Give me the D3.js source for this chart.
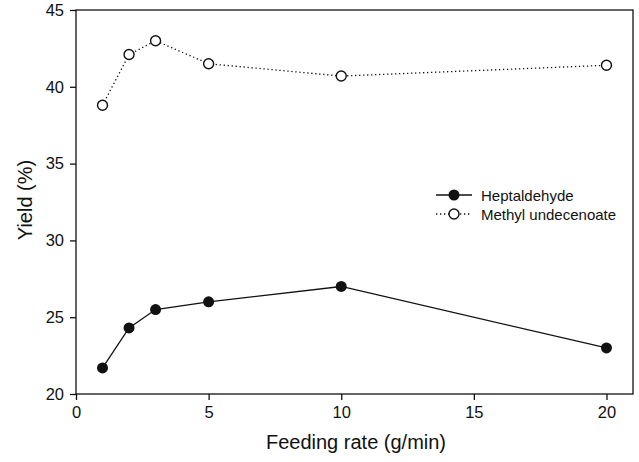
<!DOCTYPE html>
<html>
<head>
<meta charset="utf-8">
<script src="https://cdn.jsdelivr.net/npm/d3@7"></script>
<style>
  body { margin: 0; background: #fff; }
  svg text { font-family: "Liberation Sans", Arial, sans-serif; fill: #111; }
</style>
</head>
<body>
<script>
// data
const feedRate = [1, 2, 3, 5, 10, 20];
const heptaldehyde = [21.7, 24.3, 25.5, 26.0, 27.0, 23.0];
const methylUndecenoate = [38.8, 42.1, 43.0, 41.5, 40.7, 41.4];
const xTicks = [0, 5, 10, 15, 20];
const yTicks = [20, 25, 30, 35, 40, 45];

const w = 639, h = 462;
const padL = 76, padR = 633, padT = 10, padB = 394;

const svg = d3.select("body").append("svg")
  .attr("width", w).attr("height", h);

const x = d3.scaleLinear().domain([0, 21]).range([padL, padR]);
const y = d3.scaleLinear().domain([20, 45]).range([padB, padT]);

// frame
svg.append("rect")
  .attr("x", padL).attr("y", padT)
  .attr("width", padR - padL).attr("height", padB - padT)
  .attr("fill", "none").attr("stroke", "#111").attr("stroke-width", 1.3);

const xAxis = svg.append("g")
  .attr("transform", "translate(0," + padB + ")")
  .call(d3.axisBottom(x).tickValues(xTicks).tickSize(6).tickPadding(6).tickFormat(d3.format("d")));
const yAxis = svg.append("g")
  .attr("transform", "translate(" + padL + ",0)")
  .call(d3.axisLeft(y).tickValues(yTicks).tickSize(6).tickPadding(6).tickFormat(d3.format("d")));

[xAxis, yAxis].forEach(function (g) {
  g.select(".domain").remove();
  g.selectAll(".tick line").attr("stroke", "#111").attr("stroke-width", 1.3);
  g.selectAll(".tick text").attr("font-size", 16.5).style("font-family", "Liberation Sans, Arial, sans-serif").attr("fill", "#111");
});

svg.append("text")
  .attr("x", 356).attr("y", 449)
  .attr("text-anchor", "middle").attr("font-size", 20)
  .text("Feeding rate (g/min)");

svg.append("text")
  .attr("transform", "translate(32,200) rotate(-90)")
  .attr("text-anchor", "middle").attr("font-size", 20)
  .text("Yield (%)");

const line = d3.line().x((d, i) => x(feedRate[i])).y(d => y(d));

// heptaldehyde - solid line, filled dots
svg.append("path").datum(heptaldehyde)
  .attr("d", line).attr("fill", "none")
  .attr("stroke", "#111").attr("stroke-width", 1.3);
svg.selectAll(".hep").data(heptaldehyde).enter().append("circle")
  .attr("class", "hep")
  .attr("cx", (d, i) => x(feedRate[i])).attr("cy", d => y(d))
  .attr("r", 5.5).attr("fill", "#111");

// methyl undecenoate - dotted line, open dots
svg.append("path").datum(methylUndecenoate)
  .attr("d", line).attr("fill", "none")
  .attr("stroke", "#111").attr("stroke-width", 1.3)
  .attr("stroke-dasharray", "1.3,2.7");
svg.selectAll(".mu").data(methylUndecenoate).enter().append("circle")
  .attr("class", "mu")
  .attr("cx", (d, i) => x(feedRate[i])).attr("cy", d => y(d))
  .attr("r", 5).attr("fill", "#fff")
  .attr("stroke", "#111").attr("stroke-width", 1.4);

// legend
const legend = svg.append("g").attr("transform", "translate(436,195)");
legend.append("line").attr("x1", 0).attr("x2", 36).attr("y1", 0).attr("y2", 0)
  .attr("stroke", "#111").attr("stroke-width", 1.3);
legend.append("circle").attr("cx", 18).attr("cy", 0).attr("r", 5.5).attr("fill", "#111");
legend.append("text").attr("x", 45).attr("y", 5.5).attr("font-size", 15).text("Heptaldehyde");

legend.append("line").attr("x1", 0).attr("x2", 36).attr("y1", 19).attr("y2", 19)
  .attr("stroke", "#111").attr("stroke-width", 1.3).attr("stroke-dasharray", "1.3,2.7");
legend.append("circle").attr("cx", 18).attr("cy", 19).attr("r", 5).attr("fill", "#fff")
  .attr("stroke", "#111").attr("stroke-width", 1.4);
legend.append("text").attr("x", 45).attr("y", 24.5).attr("font-size", 15).text("Methyl undecenoate");
</script>
</body>
</html>
